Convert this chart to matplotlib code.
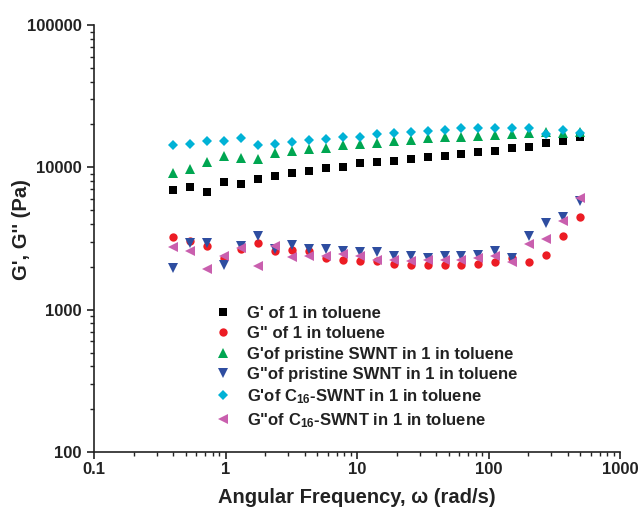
import matplotlib
matplotlib.use("Agg")
import matplotlib.pyplot as plt
from matplotlib.ticker import LogLocator, NullFormatter

plt.rcParams['font.family'] = ['Liberation Sans', 'DejaVu Sans']
plt.rcParams['font.weight'] = 'bold'
plt.rcParams['mathtext.fontset'] = 'custom'
plt.rcParams['mathtext.rm'] = 'Liberation Sans:bold'
plt.rcParams['mathtext.it'] = 'Liberation Sans:bold'
plt.rcParams['mathtext.bf'] = 'Liberation Sans:bold'

# angular frequency (rad/s)
omega = [0.398, 0.536, 0.721, 0.971, 1.31, 1.76, 2.37, 3.19, 4.30, 5.78,
         7.78, 10.5, 14.1, 19.0, 25.6, 34.4, 46.3, 62.3, 83.9, 113,
         152, 205, 275, 371, 499]

g1_storage = [6930, 7230, 6700, 7920, 7640, 8250, 8700, 9170, 9470, 9840,
              10100, 10670, 10950, 11130, 11440, 11750, 12060, 12340, 12750, 13040,
              13620, 13930, 14720, 15400, 16450]
g1_loss = [3220, 3045, 2800, 2310, 2680, 2930, 2580, 2610, 2580, 2310,
           2240, 2210, 2180, 2100, 2065, 2050, 2050, 2050, 2100, 2150,
           2300, 2170, 2440, 3270, 4470]
pristine_storage = [9170, 9680, 10900, 12000, 11570, 11380, 12540, 13090, 13380, 13600,
                    14350, 14580, 14890, 15380, 15550, 15990, 16240, 16400, 16680, 16900,
                    17100, 17400, 17600, 17500, 17700]
pristine_loss = [1950, 2960, 2960, 2065, 2800, 3270, 2680, 2840, 2680, 2680,
                 2580, 2535, 2535, 2400, 2370, 2310, 2370, 2370, 2440, 2580,
                 2310, 3310, 4090, 4500, 5780]
c16_storage = [14420, 14580, 15230, 15380, 15990, 14420, 14580, 15130, 15550, 15730,
               16400, 16400, 17140, 17500, 17790, 18080, 18280, 18800, 18800, 19000,
               19000, 19000, 17200, 18200, 17500]
c16_loss = [2770, 2580, 1920, 2370, 2730, 2030, 2800, 2345, 2400, 2370,
            2480, 2370, 2220, 2240, 2180, 2220, 2240, 2240, 2310, 2400,
            2150, 2880, 3130, 4180, 6100]

labels = ["G' of 1 in toluene",
          'G" of 1 in toluene',
          "G'of pristine SWNT in 1 in toluene",
          'G"of pristine SWNT in 1 in toluene',
          "G'of C$_{16}$-SWNT in 1 in toluene",
          'G"of C$_{16}$-SWNT in 1 in toluene']

xticks = [0.1, 1, 10, 100, 1000]
xticklabels = ['0.1', '1', '10', '100', '1000']
yticks = [100, 1000, 10000, 100000]
yticklabels = ['100', '1000', '10000', '100000']

series = [g1_storage, g1_loss, pristine_storage, pristine_loss, c16_storage, c16_loss]
markers = ['s', 'o', '^', 'v', 'D', '<']
sizes = [5.6, 6.0, 6.6, 6.6, 5.4, 6.6]
colors = ['#000000', '#EC1C24', '#00A651', '#2E4DA0', '#00B2D6', '#C95FAE']

fig = plt.figure(figsize=(6.4, 5.15), dpi=100)
ax = fig.add_axes([94/640, 63/515, 526/640, 427/515])

for ys, m, s, c, lab in zip(series, markers, sizes, colors, labels):
    ax.plot(omega, ys, linestyle='none', marker=m, markersize=s,
            color=c, markeredgewidth=0, label=lab)

ax.set_xscale('log')
ax.set_yscale('log')
ax.set_xlim(0.1, 1000)
ax.set_ylim(100, 100000)

ax.set_xticks(xticks, xticklabels)
ax.set_yticks(yticks, yticklabels)
ax.xaxis.set_minor_locator(LogLocator(base=10, subs=range(2, 10)))
ax.yaxis.set_minor_locator(LogLocator(base=10, subs=range(2, 10)))
ax.xaxis.set_minor_formatter(NullFormatter())
ax.yaxis.set_minor_formatter(NullFormatter())

for side in ['top', 'right']:
    ax.spines[side].set_visible(False)
for side in ['left', 'bottom']:
    ax.spines[side].set_linewidth(1.2)
    ax.spines[side].set_color('#222222')

ax.tick_params(which='major', direction='out', length=5, width=1.2,
               labelsize=12, colors='#222222')
ax.tick_params(which='minor', direction='out', length=3, width=1.0, colors='#222222')
ax.tick_params(axis='x', which='major', pad=2)
ax.tick_params(axis='y', which='major', pad=4)

ax.set_xlabel('Angular Frequency, ω (rad/s)', fontsize=14.5, fontweight='bold', color='#222222')
ax.set_ylabel("G', G'' (Pa)", fontsize=14.5, fontweight='bold', color='#222222')
ax.xaxis.set_label_coords(0.5, -0.085)
ax.yaxis.set_label_coords(-0.12, 0.52)

leg = ax.legend(loc='upper left', bbox_to_anchor=(0.229, 0.342), frameon=False,
                borderpad=0, borderaxespad=0, handlelength=1.0, handletextpad=0.95,
                labelspacing=0.32, prop={'family': 'Liberation Sans', 'weight': 'bold', 'size': 12})
for t in leg.get_texts():
    t.set_color('#222222')

fig.savefig('out.png', dpi=100)
